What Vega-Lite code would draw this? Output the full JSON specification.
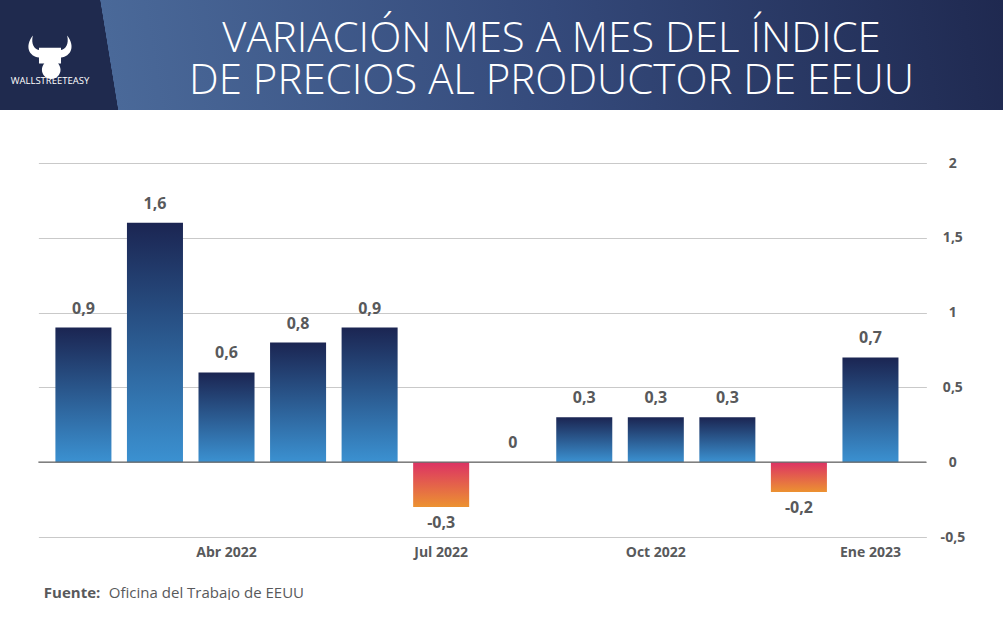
{
  "$schema": "https://vega.github.io/schema/vega-lite/v6.json",
  "description": "Variacion mes a mes del indice de precios al productor de EEUU",
  "padding": 0,
  "background": "white",
  "spacing": 46,
  "center": true,
  "config": {
    "font": "Open Sans",
    "view": {"stroke": null},
    "locale": {
      "number": {"decimal": ",", "thousands": ".", "grouping": [3], "currency": ["", " €"], "minus": "-"}
    }
  },
  "vconcat": [
    {
      "spacing": 0,
      "hconcat": [
        {
          "width": 100,
          "height": 110,
          "data": {"values": [{"marca": "WALLSTREETEASY"}]},
          "layer": [
            {"mark": {"type": "rect", "color": "#1f2a4e"}, "encoding": {}},
            {
              "mark": {
                "type": "point",
                "shape": "M -0.45 0.1 C -0.85 0.05 -1.05 -0.35 -0.7 -0.8 C -0.78 -0.45 -0.65 -0.25 -0.45 -0.2 Z M 0.45 -0.2 C 0.65 -0.25 0.78 -0.45 0.7 -0.8 C 1.05 -0.35 0.85 0.05 0.45 0.1 Z M -0.45 -0.3 L 0.45 -0.3 L 0.45 0.35 L -0.45 0.35 Z M -0.33 0.6 A 0.38 0.38 0 1 1 0.43 0.6 A 0.38 0.38 0 1 1 -0.33 0.6 Z",
                "filled": true,
                "color": "white",
                "opacity": 1,
                "size": 2400
              },
              "encoding": {}
            },
            {
              "mark": {"type": "text", "color": "white", "fontSize": 9.5, "dy": 26, "align": "center", "baseline": "middle"},
              "encoding": {"text": {"field": "marca"}}
            }
          ]
        },
        {
          "width": 903,
          "height": 110,
          "data": {"values": [{"titulo": "VARIACIÓN MES A MES DEL ÍNDICE\nDE PRECIOS AL PRODUCTOR DE EEUU"}]},
          "layer": [
            {
              "mark": {
                "type": "rect",
                "fill": {
                  "gradient": "linear",
                  "x1": 0, "y1": 0, "x2": 1, "y2": -0.0199,
                  "stops": [
                    {"offset": 0, "color": "#1f2a4e"},
                    {"offset": 0.0005, "color": "#4a6999"},
                    {"offset": 0.5, "color": "#34497a"},
                    {"offset": 1, "color": "#1f2950"}
                  ]
                }
              },
              "encoding": {}
            },
            {
              "mark": {
                "type": "text",
                "color": "white",
                "fontSize": 42,
                "fontWeight": 300,
                "lineBreak": "\n",
                "lineHeight": 42,
                "align": "center",
                "baseline": "middle",
                "dy": -16
              },
              "encoding": {"text": {"field": "titulo"}}
            }
          ]
        }
      ]
    },
    {
      "width": 888,
      "height": 374,
      "data": {
        "values": [
          {"mes": "Feb 2022", "v": 0.9},
          {"mes": "Mar 2022", "v": 1.6},
          {"mes": "Abr 2022", "v": 0.6},
          {"mes": "May 2022", "v": 0.8},
          {"mes": "Jun 2022", "v": 0.9},
          {"mes": "Jul 2022", "v": -0.3},
          {"mes": "Ago 2022", "v": 0},
          {"mes": "Sep 2022", "v": 0.3},
          {"mes": "Oct 2022", "v": 0.3},
          {"mes": "Nov 2022", "v": 0.3},
          {"mes": "Dic 2022", "v": -0.2},
          {"mes": "Ene 2023", "v": 0.7}
        ]
      },
      "layer": [
        {
          "transform": [{"filter": "datum.v > 0"}],
          "mark": {
            "type": "bar",
            "fill": {
              "gradient": "linear",
              "x1": 0, "y1": 0, "x2": 0, "y2": 1,
              "stops": [
                {"offset": 0, "color": "#1b2552"},
                {"offset": 0.5, "color": "#2b5b91"},
                {"offset": 1, "color": "#3b91d1"}
              ]
            }
          },
          "encoding": {
            "x": {
              "field": "mes",
              "type": "ordinal",
              "sort": null,
              "scale": {
                "domain": ["Feb 2022", "Mar 2022", "Abr 2022", "May 2022", "Jun 2022", "Jul 2022", "Ago 2022", "Sep 2022", "Oct 2022", "Nov 2022", "Dic 2022", "Ene 2023"],
                "paddingInner": 0.217,
                "paddingOuter": 0.314,
                "align": 0.379
              },
              "axis": {
                "values": ["Abr 2022", "Jul 2022", "Oct 2022", "Ene 2023"],
                "domain": false,
                "ticks": false,
                "grid": false,
                "labelAngle": 0,
                "labelPadding": 8,
                "labelFontSize": 14,
                "labelFontWeight": "bold",
                "labelColor": "#58595b",
                "title": "Fuente:",
                "titleFontSize": 15,
                "titleFontWeight": "bold",
                "titleColor": "#58595b",
                "titleX": 5,
                "titleY": 55,
                "titleAlign": "left",
                "titleAnchor": "start",
                "titleBaseline": "middle"
              }
            },
            "y": {
              "field": "v",
              "type": "quantitative",
              "scale": {"domain": [-0.5, 2], "nice": false},
              "axis": {
                "orient": "right",
                "values": [-0.5, 0, 0.5, 1, 1.5, 2],
                "format": ".1~f",
                "grid": true,
                "gridColor": "#c9c9c9",
                "domain": false,
                "ticks": false,
                "labelAlign": "center",
                "labelPadding": 26,
                "labelFontSize": 14,
                "labelFontWeight": "bold",
                "labelColor": "#58595b",
                "title": "Oficina del Trabajo de EEUU",
                "titleAngle": 0,
                "titleFontSize": 15,
                "titleFontWeight": "normal",
                "titleColor": "#58595b",
                "titleX": -818,
                "titleY": 429,
                "titleAlign": "left",
                "titleBaseline": "middle"
              }
            }
          }
        },
        {
          "transform": [{"filter": "datum.v < 0"}],
          "mark": {
            "type": "bar",
            "fill": {
              "gradient": "linear",
              "x1": 0, "y1": 0, "x2": 0, "y2": 1,
              "stops": [
                {"offset": 0, "color": "#dc3264"},
                {"offset": 1, "color": "#ec9231"}
              ]
            }
          },
          "encoding": {
            "x": {"field": "mes", "type": "ordinal", "sort": null},
            "y": {"field": "v", "type": "quantitative"}
          }
        },
        {
          "data": {"values": [{"cero": 0}]},
          "mark": {"type": "rule", "color": "#666666", "strokeWidth": 1.2},
          "encoding": {"y": {"field": "cero", "type": "quantitative"}}
        },
        {
          "transform": [{"filter": "datum.v >= 0"}],
          "mark": {"type": "text", "baseline": "middle", "dy": -19, "fontSize": 16, "fontWeight": "bold", "color": "#58595b"},
          "encoding": {
            "x": {"field": "mes", "type": "ordinal", "sort": null},
            "y": {"field": "v", "type": "quantitative"},
            "text": {"field": "v", "type": "quantitative", "format": ".1~f"}
          }
        },
        {
          "transform": [{"filter": "datum.v < 0"}],
          "mark": {"type": "text", "baseline": "middle", "dy": 16, "fontSize": 16, "fontWeight": "bold", "color": "#58595b"},
          "encoding": {
            "x": {"field": "mes", "type": "ordinal", "sort": null},
            "y": {"field": "v", "type": "quantitative"},
            "text": {"field": "v", "type": "quantitative", "format": ".1~f"}
          }
        }
      ]
    }
  ]
}
